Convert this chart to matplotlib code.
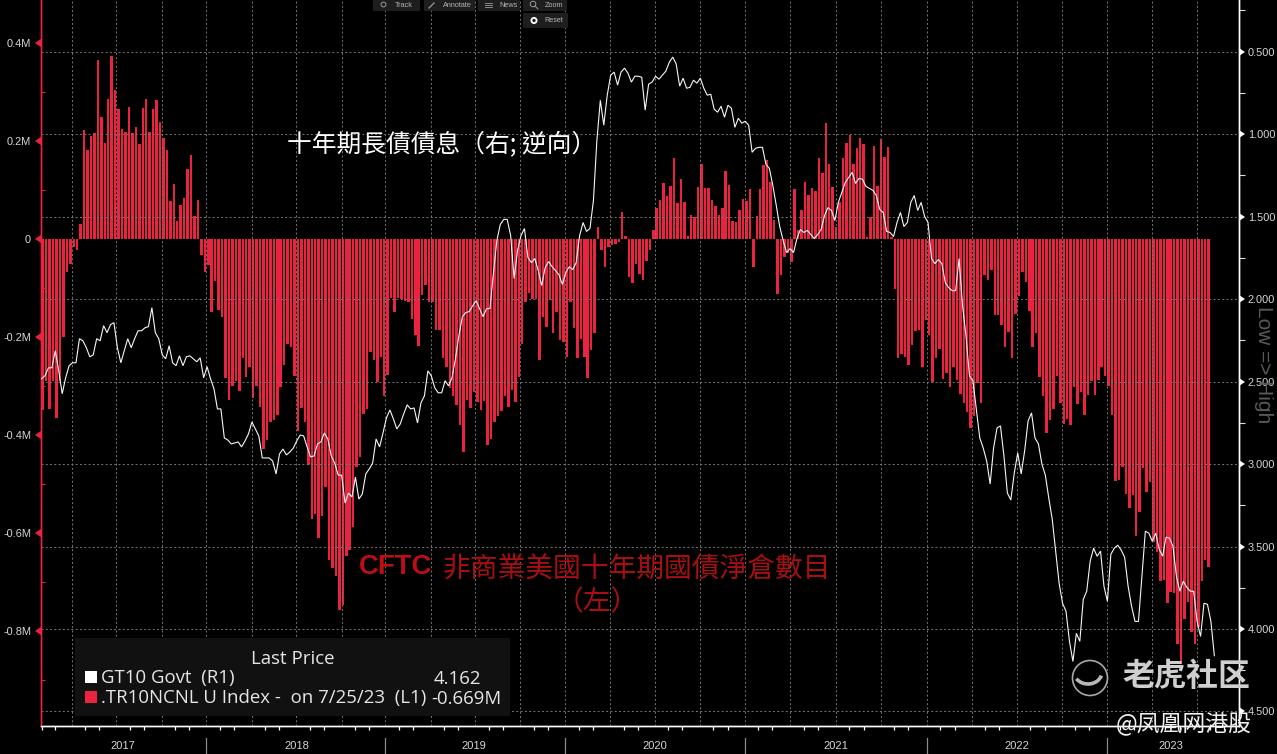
import numpy as np
import matplotlib
matplotlib.use("Agg")
import matplotlib.pyplot as plt
import matplotlib.markers as mmarkers
from matplotlib.patches import Rectangle, Circle, Arc

# CFTC non-commercial net position, millions of contracts, weekly
net_position = [
    -.349,-.29,-.347,-.29,-.365,-.29,-.2,-.067,-.05,-.016,-.022,
    .032,.222,.182,.21,.216,.365,.25,.197,.286,.373,.305,.265,.224,.218,.269,.216,.228,.195,.267,.287,
    .218,.265,.284,.239,.207,.183,.078,.112,.037,.069,.085,.144,.171,.047,.081,
    -.033,-.067,-.052,-.148,-.086,-.144,-.158,-.284,-.329,-.30,
    -.29,-.31,-.243,-.281,-.26,-.323,-.30,-.342,-.428,-.41,
    -.373,-.369,-.358,-.302,-.257,-.213,-.22,-.28,-.391,-.345,
    -.372,-.461,-.57,-.56,-.61,-.565,-.505,-.655,-.67,-.687,
    -.757,-.747,-.647,-.635,-.587,-.465,-.445,-.356,-.347,-.23,
    -.247,-.291,-.24,-.32,-.278,-.12,-.149,-.12,-.121,-.127,
    -.128,-.162,-.196,-.217,-.114,-.094,
    -.128,-.128,-.186,-.186,-.243,-.26,-.304,-.32,-.339,-.38,
    -.434,-.329,-.345,-.312,-.332,-.349,-.33,-.42,-.407,-.373,
    -.36,-.35,-.32,-.342,-.308,-.332,-.281,-.213,-.128,-.11,
    -.121,-.121,-.247,-.159,-.179,-.124,-.192,-.148,-.206,-.21,
    -.24,-.128,-.182,-.243,-.203,-.24,-.284,-.227,-.192,.025,
    -.022,-.056,-.016,-.012,-.009,-.005,.055,.006,-.077,-.089,
    -.05,-.07,-.084,-.044,-.022,.018,.063,.08,.114,.088,
    .108,.165,.073,.122,.076,.006,.049,.046,.107,.154,
    .105,.105,.08,.068,.049,.063,.139,.11,.037,.035,
    .059,.083,.078,.102,-.056,.047,.103,.151,.161,.117,
    .039,-.111,-.073,-.036,-.029,-.046,.103,.018,.059,.117,
    .09,.105,.099,.166,.136,.238,.154,.107,.025,.075,
    .166,.197,.212,.153,.186,
    .207,.194,.005,.046,.19,.109,.205,.168,.188,.005,
    -.101,-.242,-.235,-.241,-.256,-.216,-.187,-.186,-.26,-.164,
    -.196,-.291,-.243,-.223,-.286,-.272,-.301,-.26,-.288,-.315,
    -.335,-.352,-.386,-.36,-.294,-.335,-.073,-.084,-.062,-.155,
    -.155,-.175,-.22,-.19,-.243,-.152,-.116,-.067,-.087,-.146,
    -.22,-.191,-.281,-.32,-.395,-.368,-.347,-.28,-.334,-.376,
    -.366,-.38,-.301,-.337,-.312,-.358,-.318,-.29,-.318,-.288,
    -.26,-.28,-.30,-.358,-.493,-.492,-.465,-.52,-.548,-.522,
    -.605,-.557,-.467,-.516,-.495,-.618,-.638,-.697,-.696,-.743,
    -.72,-.722,-.825,-.866,-.774,-.74,-.801,-.825,-.791,-.697,
    -.655,-.669,
]

# US 10-year yield, percent, weekly
yield_10y = [
    2.483,2.465,2.417,2.417,2.313,2.435,2.574,2.477,2.404,2.386,2.386,2.240,2.253,2.295,2.350,2.338,
    2.240,2.253,2.161,2.204,2.155,2.143,2.295,2.386,2.313,2.240,2.295,2.240,2.192,2.192,2.174,2.167,
    2.052,2.204,2.240,2.338,2.362,2.283,2.386,2.404,2.344,2.404,2.350,2.344,2.362,2.380,2.356,2.477,
    2.410,2.483,2.544,2.666,2.666,2.842,2.854,2.878,2.872,2.866,2.896,2.860,2.817,2.745,2.787,2.830,
    2.963,2.963,2.963,2.982,3.060,2.939,2.909,2.945,2.927,2.903,2.860,2.824,2.830,2.896,2.957,2.951,
    2.878,2.866,2.811,2.848,2.951,2.994,3.067,3.067,3.237,3.176,3.200,3.079,3.212,3.182,3.060,3.030,
    2.994,2.848,2.896,2.811,2.720,2.672,2.726,2.787,2.757,2.696,2.641,2.666,2.660,2.751,2.629,2.587,
    2.435,
    2.465,2.538,2.568,2.568,2.495,2.526,2.477,2.362,2.222,2.107,2.082,2.076,2.040,2.010,2.058,2.107,
    2.058,2.058,1.845,1.645,1.548,1.517,1.517,1.615,1.876,1.706,1.615,1.572,1.748,1.779,1.754,1.827,
    1.918,1.809,1.773,1.803,1.827,1.852,1.912,1.839,1.803,1.821,1.779,1.615,1.536,1.590,1.572,1.402,
    1.038,0.795,0.946,0.764,0.643,0.624,0.703,0.624,0.600,0.630,0.685,0.649,0.649,0.655,0.855,0.697,
    0.685,0.649,0.667,0.643,0.618,0.564,0.533,0.576,0.709,0.661,0.722,0.716,0.673,0.691,0.661,0.722,
    0.764,0.758,0.849,0.867,0.831,0.898,0.825,0.843,0.959,0.904,0.934,0.922,0.946,1.110,1.086,1.080,
    1.080,1.183,1.208,1.311,1.432,1.560,1.645,1.718,1.694,1.718,1.633,1.578,1.596,1.584,1.609,1.633,
    1.609,1.578,1.493,1.445,1.463,1.524,1.414,1.353,1.293,1.262,1.232,1.299,1.268,
    1.274,1.317,1.329,1.341,1.372,1.457,1.475,1.590,1.596,1.621,1.536,1.475,1.560,1.536,1.414,1.372,
    1.463,1.414,1.499,1.536,1.754,1.785,1.760,1.785,1.900,1.931,1.949,1.949,1.754,2.040,2.222,2.465,
    2.495,2.666,2.842,2.903,2.982,3.121,2.903,2.781,2.769,2.951,3.176,3.218,3.054,2.933,3.060,2.921,
    2.739,2.690,2.842,2.878,3.000,3.067,3.206,3.334,3.528,3.723,3.844,3.893,4.075,4.197,4.026,4.075,
    3.820,3.771,3.589,3.510,3.559,3.528,3.741,3.832,3.547,3.510,3.492,3.522,3.565,3.741,3.862,3.954,
    3.954,3.680,3.407,3.419,3.468,3.419,3.516,3.559,3.443,3.449,3.498,3.680,3.771,3.710,3.747,3.771,
    3.771,3.954,4.045,3.844,3.850,3.954,4.162,
]

left_ticks = [-0.8, -0.6, -0.4, -0.2, 0, 0.2, 0.4]
left_labels = ["-0.8M", "-0.6M", "-0.4M", "-0.2M", "0", "0.2M", "0.4M"]
left_minor = [-0.9, -0.7, -0.5, -0.3, -0.1, 0.1, 0.3]
right_ticks = [0.5, 1.0, 1.5, 2.0, 2.5, 3.0, 3.5, 4.0, 4.5]
right_labels = ["0.500", "1.000", "1.500", "2.000", "2.500", "3.000", "3.500", "4.000", "4.500"]
right_minor = [0.25, 0.75, 1.25, 1.75, 2.25, 2.75, 3.25, 3.75, 4.25]
# week numbers of the calendar-quarter starts, year starts and year-label centres
quarter_weeks = [8.7, 21.7, 34.8, 47.8, 60.9, 73.9, 87.0, 99.7, 112.8, 125.8, 138.8, 151.9, 164.9,
                 177.8, 190.9, 203.9, 217.0, 230.3, 243.3, 256.7, 269.7, 282.8, 295.8, 308.8, 321.9, 334.9]
month_weeks = [0, 3.9] + [q + d for q in quarter_weeks for d in (0, 3.9, 8.0)]
year_weeks = [47.8, 99.7, 151.9, 203.9, 256.7, 308.8]
year_names = ["2017", "2018", "2019", "2020", "2021", "2022", "2023"]
year_centres = [23.6, 73.9, 125.4, 177.8, 230.3, 282.8, 327.4]

W, H = 1277, 754
CJK = ["Noto Sans CJK TC", "DejaVu Sans"]
RED = "#ec2340"
GRID = "#777777"
LABEL = "#d6d6d6"
plt.rcParams["font.family"] = ["Liberation Sans", "DejaVu Sans"]


def fx(x):
    return x / W


def fy(y):
    return 1 - y / H


fig = plt.figure(figsize=(W / 100, H / 100), dpi=100, facecolor="black")
rect = [fx(40.5), fy(725.5), (1238.5 - 40.5) / W, 725.5 / H]
ax = fig.add_axes(rect, facecolor="black")
ax2 = ax.twinx()
ax2.patch.set_visible(False)

weeks = np.arange(len(yield_10y))
ax.bar(np.arange(len(net_position)) + 0.35, net_position, width=0.72, color=RED, linewidth=0)
ax2.plot(weeks, yield_10y, color="#f6f6f6", lw=0.8, solid_joinstyle="miter", zorder=5)

ax.set_xlim(-0.29, 347.0)
ax.set_ylim(-0.992, 0.488)
ax2.set_ylim(4.585, 0.187)

ax.set_yticks(left_ticks, left_labels)
ax.set_yticks(left_minor, minor=True)
ax2.set_yticks(right_ticks, right_labels)
ax2.set_yticks(right_minor, minor=True)
ax.set_xticks(quarter_weeks, [""] * len(quarter_weeks))
ax.set_xticks(month_weeks, minor=True)

ax.tick_params(axis="y", which="major", length=5, pad=1.8, labelsize=7.9, labelcolor=LABEL, color=RED)
ax.tick_params(axis="y", which="minor", length=3, direction="in", color=RED, width=0.8)
ax2.tick_params(axis="y", which="major", length=5, pad=1.8, labelsize=7.9, labelcolor=LABEL, color="white")
ax2.tick_params(axis="y", which="minor", length=4, direction="out", color="#dddddd", width=0.8)
ax.tick_params(axis="x", which="major", length=0)
ax.tick_params(axis="x", which="minor", length=3, direction="out", color="white", width=0.9)

for t in ax.yaxis.get_major_ticks():
    t.tick1line.set_marker(mmarkers.CARETLEFTBASE)
    t.tick1line.set_markersize(6)
    t.tick1line.set_markerfacecolor(RED)
    t.tick1line.set_markeredgewidth(0)
for t in ax2.yaxis.get_major_ticks():
    t.tick2line.set_marker(mmarkers.CARETRIGHTBASE)
    t.tick2line.set_markersize(6)
    t.tick2line.set_markerfacecolor("white")
    t.tick2line.set_markeredgewidth(0)

for a in (ax, ax2):
    a.spines["top"].set_visible(False)
    a.spines["left"].set_color(RED)
    a.spines["left"].set_linewidth(1.0)
    a.spines["right"].set_color("white")
    a.spines["right"].set_linewidth(1.0)
    a.spines["bottom"].set_color("white")
    a.spines["bottom"].set_linewidth(1.0)

# dotted grid drawn over the bars, taken from the right axis and the quarter ticks
DASH = (0, (2.0, 2.4))
ax2.yaxis.grid(True, which="major", color=GRID, lw=0.7, ls=DASH)
ax2.set_axisbelow(True)
xform = ax2.get_xaxis_transform()
for q in quarter_weeks:
    ax2.plot([q, q], [0, 1], transform=xform, color=GRID, lw=0.7, ls=DASH, zorder=1)
ax2.set_xlim(ax.get_xlim())
ax2.set_ylim(4.585, 0.187)

# year separators and labels under the axis
bottom = -(738 - 725.5) / 725.5
for q in year_weeks:
    ax.plot([q, q], [bottom, -(754 - 725.5) / 725.5], transform=ax.get_xaxis_transform(),
            color="#8a8a8a", lw=0.9, clip_on=False)
for q, name in zip(year_centres, year_names):
    ax.text(q, -(746 - 725.5) / 725.5, name, transform=ax.get_xaxis_transform(),
            ha="center", va="center", fontsize=8, color=LABEL)

# legend box
fig.add_artist(Rectangle((fx(75), fy(716)), 435 / W, 78 / H, transform=fig.transFigure,
                         facecolor="#111111", edgecolor="none", zorder=6))
LEG = dict(family=["Open Sans", "DejaVu Sans"], fontsize=13.4, color="#e6e6e6", va="center", zorder=7)
fig.text(fx(293), fy(658.5), "Last Price", ha="center", **LEG)
fig.text(fx(101), fy(678.5), "GT10 Govt  (R1)", **LEG)
fig.text(fx(101), fy(698.5), ".TR10NCNL U Index -  on 7/25/23  (L1)", **LEG)
fig.text(fx(481), fy(678.5), "4.162", ha="right", **LEG)
fig.text(fx(502), fy(698.5), "-0.669M", ha="right", **LEG)
fig.add_artist(Rectangle((fx(85), fy(683)), 12 / W, 12 / H, transform=fig.transFigure,
                         facecolor="white", edgecolor="none", zorder=7))
fig.add_artist(Rectangle((fx(85), fy(703)), 12 / W, 12 / H, transform=fig.transFigure,
                         facecolor=RED, edgecolor="none", zorder=7))

# annotations
fig.text(fx(442), fy(144), "十年期長債債息（右; 逆向）", family=CJK, fontsize=17.8, color="white",
         ha="center", va="center", zorder=7)
fig.text(fx(395.5), fy(567), "CFTC", fontsize=19.8, fontweight="bold", color="#bb0f14",
         ha="center", va="center", zorder=7)
fig.text(fx(637), fy(570), "非商業美國十年期國債淨倉數目", family=CJK, fontsize=20, color="#a80f12",
         ha="center", va="center", zorder=7)
fig.text(fx(597), fy(602), "（左）", family=CJK, fontsize=20, color="#a80f12",
         ha="center", va="center", zorder=7)
fig.text(fx(1264), fy(365), "Low => High", fontsize=15, color="#5a5a5a", rotation=-90,
         ha="center", va="center", zorder=7)

# toolbar at the top
for x0, x1, y0, y1, label, tx in [(373, 420, 0, 11, "Track", 404),
                                  (424, 475, 0, 11, "Annotate", 457),
                                  (478, 520, 0, 11, "News", 508),
                                  (523, 567, 0, 11, "Zoom", 554),
                                  (523, 568, 13, 28, "Reset", 554)]:
    fig.add_artist(Rectangle((fx(x0), fy(y1)), (x1 - x0) / W, (y1 - y0) / H, transform=fig.transFigure,
                             facecolor="#1e1e1e", edgecolor="none", zorder=6))
    fig.text(fx(tx), fy((y0 + y1) / 2 - (0.5 if y0 else 0)), label, fontsize=5.2, color="#b5b5b5",
             ha="center", va="center", zorder=7)

# watermarks and toolbar icons
mark = fig.add_axes([0, 0, 1, 1], facecolor="none", zorder=8)
mark.set_xlim(0, W)
mark.set_ylim(H, 0)
mark.axis("off")
mark.add_patch(Circle((534, 20.5), 2.6, facecolor="#1e1e1e", edgecolor="white", lw=1.3))
mark.add_patch(Circle((383.5, 4.5), 2.4, facecolor="none", edgecolor="#9a9a9a", lw=0.7))
mark.add_patch(Circle((533, 4), 2.8, facecolor="none", edgecolor="#9a9a9a", lw=0.7))
mark.plot([535, 538], [6, 9], color="#9a9a9a", lw=0.7)
mark.plot([429, 434], [8, 3], color="#9a9a9a", lw=0.9)
for yy in (2.5, 4.5, 6.5):
    mark.plot([485, 492], [yy, yy], color="#9a9a9a", lw=0.6)
mark.add_patch(Circle((1090, 678), 17.5, facecolor="none", edgecolor="#a8a8a8", lw=1.2))
mark.add_patch(Arc((1088, 672), 28, 24, theta1=15, theta2=150, color="#b8b8b8", lw=2.6))
mark.text(1186, 677, "老虎社区", family=CJK, fontsize=23, color="#cfcfcf", ha="center", va="center",
          fontweight="bold")
mark.text(1184, 724, "@凤凰网港股", family=CJK, fontsize=16.5, color="#f0f0f0", ha="center", va="center")

fig.savefig("out.png", dpi=100, facecolor="black")
